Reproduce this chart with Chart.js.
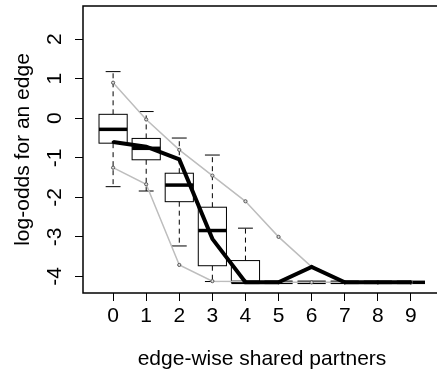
<!DOCTYPE html>
<html>
<head>
<meta charset="utf-8">
<script src="https://cdn.jsdelivr.net/npm/chart.js@4.4.1/dist/chart.umd.min.js"></script>
<style>
  html, body { margin: 0; padding: 0; background: #fff; overflow: hidden; }
  #wrap { width: 437px; height: 370px; overflow: hidden; }
</style>
</head>
<body>
<div id="wrap"><canvas id="gof" width="446" height="370"></canvas></div>
<script>
// edge-wise shared partners (x categories)
var partners = [0, 1, 2, 3, 4, 5, 6, 7, 8, 9];
var yTicks = [-4, -3, -2, -1, 0, 1, 2];

// observed log-odds (thick black line)
var observed = [-0.6, -0.72, -1.04, -3.05, -4.15, -4.15, -3.76, -4.15, -4.15, -4.15];
// simulated range (grey lines)
var simMax = [0.9, -0.03, -0.8, -1.45, -2.1, -3.0, -3.76, -4.15, -4.15, -4.15];
var simMin = [-1.25, -1.67, -3.71, -4.12, -4.13, -4.15, -4.15, -4.15, -4.15, -4.15];
// boxplots of simulated values
var whiskLo = [-1.73, -1.84, -3.23, -4.13, -4.15, -4.15, -4.15, -4.15, -4.15, -4.15];
var q1 = [-0.63, -1.05, -2.11, -3.73, -4.15, -4.15, -4.15, -4.15, -4.15, -4.15];
var med = [-0.28, -0.76, -1.69, -2.84, -4.15, -4.15, -4.15, -4.15, -4.15, -4.15];
var q3 = [0.1, -0.51, -1.39, -2.25, -3.6, -4.15, -4.15, -4.15, -4.15, -4.15];
var whiskHi = [1.18, 0.17, -0.5, -0.93, -2.78, -4.15, -4.15, -4.15, -4.15, -4.15];

var FONT = '21px "Liberation Sans", Arial, sans-serif';

function pts(arr) {
    return partners.map(function (p, i) { return { x: p, y: arr[i] }; });
}

// boxes, whiskers, frame and text drawn with the chart's scales
var gofPlugin = {
    id: 'gof',
    beforeDatasetsDraw: function (chart) {
        var ctx = chart.ctx;
        var xs = chart.scales.x, ys = chart.scales.y;
        var half = xs.getPixelForValue(0.426) - xs.getPixelForValue(0);
        var cap = xs.getPixelForValue(0.225) - xs.getPixelForValue(0);
        ctx.save();
        partners.forEach(function (p, i) {
            var xc = xs.getPixelForValue(p);
            var yLo = ys.getPixelForValue(whiskLo[i]);
            var yQ1 = ys.getPixelForValue(q1[i]);
            var yMed = ys.getPixelForValue(med[i]);
            var yQ3 = ys.getPixelForValue(q3[i]);
            var yHi = ys.getPixelForValue(whiskHi[i]);
            ctx.strokeStyle = '#000';
            ctx.lineWidth = 1;
            // whiskers
            ctx.setLineDash([5, 4]);
            ctx.beginPath();
            ctx.moveTo(xc, yQ3); ctx.lineTo(xc, yHi);
            ctx.moveTo(xc, yQ1); ctx.lineTo(xc, yLo);
            ctx.stroke();
            ctx.setLineDash([]);
            // caps
            ctx.beginPath();
            ctx.moveTo(xc - cap, yHi); ctx.lineTo(xc + cap, yHi);
            ctx.moveTo(xc - cap, yLo); ctx.lineTo(xc + cap, yLo);
            ctx.stroke();
            // box
            ctx.fillStyle = '#fff';
            ctx.fillRect(xc - half, yQ3, 2 * half, yQ1 - yQ3);
            ctx.strokeRect(xc - half, yQ3, 2 * half, yQ1 - yQ3);
            // median
            ctx.lineWidth = 3.5;
            ctx.beginPath();
            ctx.moveTo(xc - half, yMed); ctx.lineTo(xc + half, yMed);
            ctx.stroke();
        });
        ctx.restore();
    },
    afterDraw: function (chart) {
        var ctx = chart.ctx;
        var a = chart.chartArea;
        var ys = chart.scales.y;
        ctx.save();
        ctx.strokeStyle = '#000';
        ctx.lineWidth = 1.5;
        ctx.strokeRect(a.left, a.top, a.right - a.left, a.bottom - a.top);
        ctx.fillStyle = '#000';
        ctx.font = FONT;
        ctx.textAlign = 'center';
        ctx.textBaseline = 'alphabetic';
        // y tick labels, parallel to the axis
        yTicks.forEach(function (v) {
            ctx.save();
            ctx.translate(61, ys.getPixelForValue(v));
            ctx.rotate(-Math.PI / 2);
            ctx.fillText(String(v), 0, 0);
            ctx.restore();
        });
        // axis titles
        ctx.save();
        ctx.translate(29, (a.top + a.bottom) / 2);
        ctx.rotate(-Math.PI / 2);
        ctx.fillText('log-odds for an edge', 0, 0);
        ctx.restore();
        ctx.fillText('edge-wise shared partners', (a.left + a.right) / 2, 365);
        ctx.restore();
    }
};

var ctx = document.getElementById('gof').getContext('2d');
var chart = new Chart(ctx, {
    type: 'line',
    data: {
        datasets: [{
            // first dataset is drawn last, i.e. on top
            label: 'observed',
            data: pts(observed),
            borderColor: '#000',
            borderWidth: 4,
            pointRadius: 1.5,
            pointBorderWidth: 0,
            pointBackgroundColor: '#000'
        }, {
            label: 'max',
            data: pts(simMax),
            borderColor: '#bdbdbd',
            borderWidth: 1.5,
            pointRadius: 1.6,
            pointBorderColor: '#555',
            pointBackgroundColor: '#ddd',
            pointBorderWidth: 1
        }, {
            label: 'min',
            data: pts(simMin),
            borderColor: '#bdbdbd',
            borderWidth: 1.5,
            pointRadius: 1.6,
            pointBorderColor: '#555',
            pointBackgroundColor: '#ddd',
            pointBorderWidth: 1
        }]
    },
    options: {
        responsive: false,
        animation: false,
        layout: { padding: { top: 6, right: 2, left: 0, bottom: 0 } },
        plugins: { legend: { display: false }, tooltip: { enabled: false } },
        scales: {
            x: {
                type: 'linear',
                min: -0.91,
                max: 9.91,
                afterBuildTicks: function (s) { s.ticks = partners.map(function (v) { return { value: v }; }); },
                afterFit: function (s) { s.height = 77; },
                grid: { drawOnChartArea: false, drawTicks: true, tickLength: 8, color: '#000', lineWidth: 1 },
                border: { display: false },
                ticks: { color: '#000', font: { family: '"Liberation Sans", Arial, sans-serif', size: 21 }, padding: 3, maxRotation: 0 }
            },
            y: {
                type: 'linear',
                min: -4.42,
                max: 2.84,
                afterBuildTicks: function (s) { s.ticks = yTicks.map(function (v) { return { value: v }; }); },
                afterFit: function (s) { s.width = 83; },
                grid: { drawOnChartArea: false, drawTicks: true, tickLength: 8, color: '#000', lineWidth: 1 },
                border: { display: false },
                ticks: { display: false }
            }
        }
    },
    plugins: [gofPlugin]
});
</script>
</body>
</html>
